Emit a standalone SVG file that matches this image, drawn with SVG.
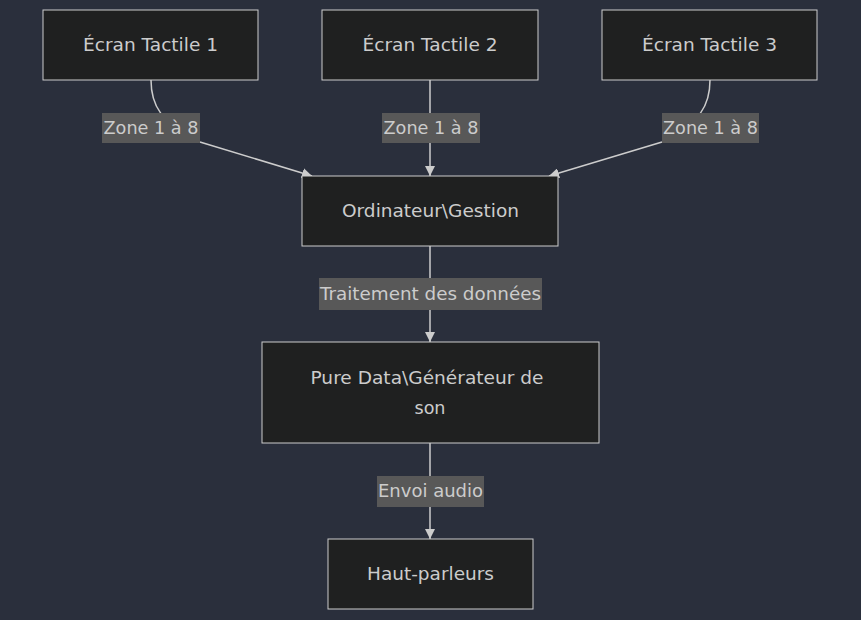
<svg xmlns="http://www.w3.org/2000/svg" width="861" height="620" viewBox="0 0 861 620">
<defs>
<style>
.node rect{fill:#1f2020;stroke:#cccccc;stroke-width:1}
.node text,.lbl text{font-family:"DejaVu Sans",Verdana,sans-serif;font-size:17.5px;fill:#cccccc;text-anchor:middle;dominant-baseline:central}
.edge{fill:none;stroke:#cccccc;stroke-width:1.5}
.lbl rect{fill:#585858;opacity:1}
</style>
<marker id="arr" viewBox="0 0 10 10" refX="10" refY="5" markerWidth="10" markerHeight="10" markerUnits="userSpaceOnUse" orient="auto">
<path d="M0,0 L10,5 L0,10 z" fill="#cccccc"/>
</marker>
</defs>
<rect width="861" height="620" fill="#2a2f3c"/>
<g id="connectors">
<path class="edge" d="M151,80 C151,105 160,122 200,142 L312,176" marker-end="url(#arr)"/>
<path class="edge" d="M430,80 L430,176" marker-end="url(#arr)"/>
<path class="edge" d="M710,80 C710,105 701,122 662,142 L549,176" marker-end="url(#arr)"/>
<path class="edge" d="M430,246 L430,342" marker-end="url(#arr)"/>
<path class="edge" d="M430,443 L430,539" marker-end="url(#arr)"/>
<g class="lbl"><rect x="102" y="113" width="98" height="30"/><text x="151" y="128" textLength="95" lengthAdjust="spacingAndGlyphs">Zone 1 à 8</text></g>
<g class="lbl"><rect x="382" y="113" width="98" height="30"/><text x="431" y="128" textLength="95" lengthAdjust="spacingAndGlyphs">Zone 1 à 8</text></g>
<g class="lbl"><rect x="662" y="113" width="97" height="30"/><text x="710.5" y="128" textLength="95" lengthAdjust="spacingAndGlyphs">Zone 1 à 8</text></g>
<g class="lbl"><rect x="319" y="278" width="223" height="32"/><text x="430.5" y="294" textLength="221" lengthAdjust="spacingAndGlyphs">Traitement des données</text></g>
<g class="lbl"><rect x="377" y="476" width="107" height="31"/><text x="430.5" y="491" textLength="105" lengthAdjust="spacingAndGlyphs">Envoi audio</text></g>
</g>
<g id="ecran1" class="node"><rect x="43" y="10" width="215" height="70"/><text x="150.5" y="45" textLength="135" lengthAdjust="spacingAndGlyphs">Écran Tactile 1</text></g>
<g id="ecran2" class="node"><rect x="322" y="10" width="216" height="70"/><text x="430" y="45" textLength="135" lengthAdjust="spacingAndGlyphs">Écran Tactile 2</text></g>
<g id="ecran3" class="node"><rect x="602" y="10" width="215" height="70"/><text x="709.5" y="45" textLength="135" lengthAdjust="spacingAndGlyphs">Écran Tactile 3</text></g>
<g id="ordinateur" class="node"><rect x="302" y="176" width="256" height="70"/><text x="430.5" y="211" textLength="177" lengthAdjust="spacingAndGlyphs">Ordinateur\Gestion</text></g>
<g id="puredata" class="node"><rect x="262" y="342" width="337" height="101"/><text x="427" y="378" textLength="233" lengthAdjust="spacingAndGlyphs">Pure Data\Générateur de</text><text x="430" y="408" textLength="31" lengthAdjust="spacingAndGlyphs">son</text></g>
<g id="hautparleurs" class="node"><rect x="328" y="539" width="205" height="70"/><text x="430.5" y="574" textLength="127" lengthAdjust="spacingAndGlyphs">Haut-parleurs</text></g>
</svg>
